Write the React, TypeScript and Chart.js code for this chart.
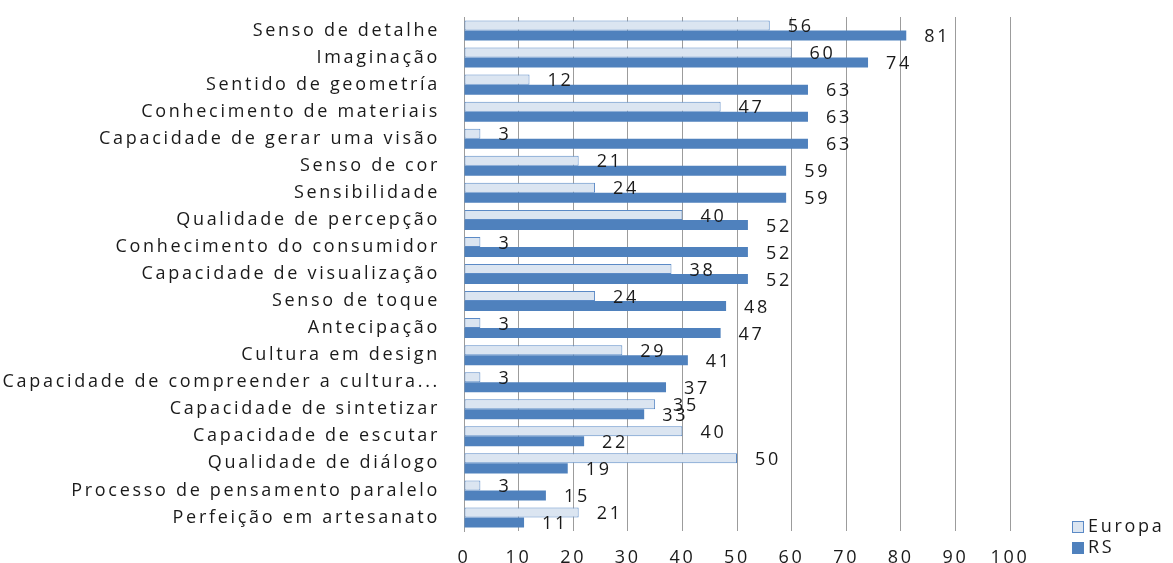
import React, { useEffect, useRef } from 'react';
import { Chart, registerables } from 'chart.js';

Chart.register(...registerables);

const categories = [
  'Senso de detalhe',
  'Imaginação',
  'Sentido de geometría',
  'Conhecimento de materiais',
  'Capacidade de gerar uma visão',
  'Senso de cor',
  'Sensibilidade',
  'Qualidade de percepção',
  'Conhecimento do consumidor',
  'Capacidade de visualização',
  'Senso de toque',
  'Antecipação',
  'Cultura em design',
  'Capacidade de compreender a cultura...',
  'Capacidade de sintetizar',
  'Capacidade de escutar',
  'Qualidade de diálogo',
  'Processo de pensamento paralelo',
  'Perfeição em artesanato',
];

const europaValues = [56, 60, 12, 47, 3, 21, 24, 40, 3, 38, 24, 3, 29, 3, 35, 40, 50, 3, 21];
const rsValues = [81, 74, 63, 63, 63, 59, 59, 52, 52, 52, 48, 47, 41, 37, 33, 22, 19, 15, 11];

const xTickValues = [0, 10, 20, 30, 40, 50, 60, 70, 80, 90, 100];

const FONT_FAMILY = '"Open Sans", sans-serif';
const FONT_SIZE = 18;
const LETTER_SPACING = '2.7px';
const TEXT_COLOR = '#1a1a1a';
const RS_COLOR = '#4f81bd';
const EUROPA_FILL = '#dbe5f1';
const EUROPA_BORDER = '#5b8ac6';

export default function App() {
  const canvasRef = useRef<HTMLCanvasElement | null>(null);

  useEffect(() => {
    const canvas = canvasRef.current;
    if (!canvas) return;

    const spacingPlugin = {
      id: 'letterSpacing',
      beforeUpdate(chart: any) {
        chart.ctx.letterSpacing = LETTER_SPACING;
      },
      beforeLayout(chart: any) {
        chart.ctx.letterSpacing = LETTER_SPACING;
      },
      beforeDraw(chart: any) {
        chart.ctx.letterSpacing = LETTER_SPACING;
      },
    };

    const valueLabelPlugin = {
      id: 'valueLabels',
      afterDatasetsDraw(chart: any) {
        const ctx = chart.ctx;
        ctx.save();
        ctx.letterSpacing = LETTER_SPACING;
        ctx.font = `${FONT_SIZE}px ${FONT_FAMILY}`;
        ctx.fillStyle = TEXT_COLOR;
        ctx.textAlign = 'left';
        ctx.textBaseline = 'middle';
        chart.data.datasets.forEach((ds: any, i: number) => {
          const meta = chart.getDatasetMeta(i);
          meta.data.forEach((el: any, j: number) => {
            ctx.fillText(String(ds.data[j]), el.x + 18, el.y + 1.5);
          });
        });
        ctx.restore();
      },
    };

    const legendPlugin = {
      id: 'customLegend',
      afterDraw(chart: any) {
        const ctx = chart.ctx;
        ctx.save();
        ctx.letterSpacing = LETTER_SPACING;
        ctx.font = `${FONT_SIZE}px ${FONT_FAMILY}`;
        ctx.textAlign = 'left';
        ctx.textBaseline = 'middle';
        const x = chart.chartArea.right + 62;
        const ys = [527, 548];
        chart.data.datasets.forEach((ds: any, i: number) => {
          const cy = ys[i];
          ctx.fillStyle = ds.backgroundColor;
          ctx.fillRect(x, cy - 6, 12, 12);
          if (ds.borderWidth) {
            ctx.strokeStyle = ds.borderColor;
            ctx.lineWidth = 1;
            ctx.strokeRect(x + 0.5, cy - 5.5, 11, 11);
          }
          ctx.fillStyle = TEXT_COLOR;
          ctx.fillText(ds.label, x + 16, cy);
        });
        ctx.restore();
      },
    };

    const chart = new Chart(canvas, {
      type: 'bar',
      data: {
        labels: categories,
        datasets: [
          {
            label: 'Europa',
            data: europaValues,
            backgroundColor: EUROPA_FILL,
            borderColor: EUROPA_BORDER,
            borderWidth: 1,
            borderSkipped: false,
            categoryPercentage: 0.74,
            barPercentage: 1,
          },
          {
            label: 'RS',
            data: rsValues,
            backgroundColor: RS_COLOR,
            borderWidth: 0,
            categoryPercentage: 0.74,
            barPercentage: 1,
          },
        ],
      },
      options: {
        indexAxis: 'y',
        animation: false,
        responsive: true,
        maintainAspectRatio: false,
        layout: { padding: { top: 17, right: 163, bottom: 0, left: 0 } },
        plugins: {
          legend: { display: false },
          tooltip: { enabled: false },
        },
        scales: {
          x: {
            min: 0,
            max: 100,
            afterBuildTicks(scale: any) {
              scale.ticks = xTickValues.map((v) => ({ value: v }));
            },
            afterFit(scale: any) {
              scale.height = 32;
              scale.paddingLeft = 0;
              scale.paddingRight = 0;
            },
            grid: {
              color: '#9c9c9c',
              lineWidth: 1,
              drawTicks: false,
            },
            border: { display: false },
            ticks: {
              padding: 16,
              color: TEXT_COLOR,
              font: { family: FONT_FAMILY, size: FONT_SIZE },
              maxRotation: 0,
            },
          },
          y: {
            afterFit(scale: any) {
              scale.width = 464;
              scale.paddingTop = 0;
              scale.paddingBottom = 0;
            },
            grid: { display: false, drawTicks: false },
            border: { display: true, color: '#9c9c9c', width: 1 },
            ticks: {
              padding: 24,
              color: TEXT_COLOR,
              font: { family: FONT_FAMILY, size: FONT_SIZE },
              autoSkip: false,
            },
          },
        },
      },
      plugins: [spacingPlugin, valueLabelPlugin, legendPlugin],
    } as any);

    return () => chart.destroy();
  }, []);

  return (
    <div style={{ position: 'absolute', left: 0, top: 0, width: 1173, height: 563 }}>
      <canvas ref={canvasRef} />
    </div>
  );
}
